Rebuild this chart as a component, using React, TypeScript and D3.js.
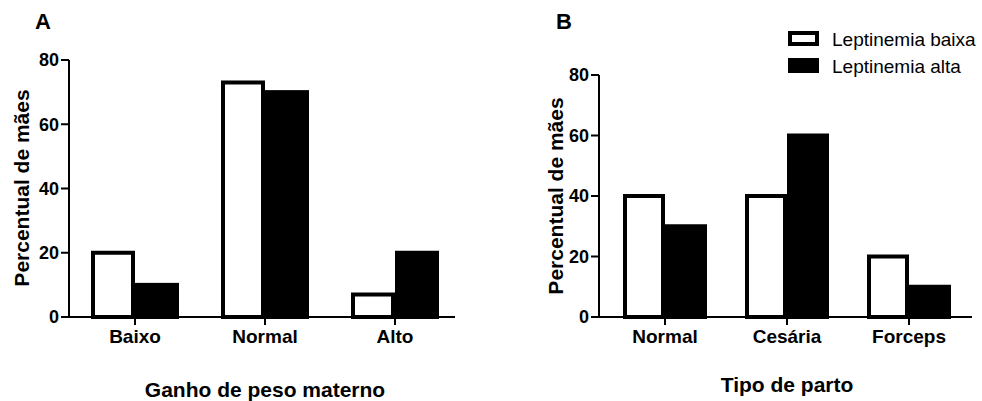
import * as d3 from 'd3'

const seriesKeys = ['Leptinemia baixa', 'Leptinemia alta']

const catsA = ['Baixo', 'Normal', 'Alto']
const baixaA = [20, 73, 7]
const altaA = [10, 70, 20]

const catsB = ['Normal', 'Cesária', 'Forceps']
const baixaB = [40, 40, 20]
const altaB = [30, 60, 10]

const yTicks = [0, 20, 40, 60, 80]

const FONT = '"Liberation Sans", Arial, Helvetica, sans-serif'

type PanelProps = {
  letter: string
  letterX: number
  cats: string[]
  low: number[]
  high: number[]
  axisX: number
  yTop: number
  yBottom: number
  xRange: [number, number]
  xEnd: number
  barW: number
  yTitleX: number
  yTitleY: number
  xTitle: string
  xTitleX: number
  xTitleY: number
}

function Panel(p: PanelProps) {
  const y = d3.scaleLinear().domain([0, 80]).range([p.yBottom, p.yTop])
  const x0 = d3.scaleBand<string>().domain(p.cats).range(p.xRange).padding(0)
  const x1 = d3.scaleBand<string>().domain(seriesKeys).range([-p.barW, p.barW]).padding(0)
  const sw = 4
  return (
    <g>
      <text x={p.letterX} y={29} fontFamily={FONT} fontWeight="bold" fontSize={22}>{p.letter}</text>
      {p.cats.map((c, i) => {
        const cx = x0(c)! + x0.bandwidth() / 2
        const vals = [p.low[i], p.high[i]]
        return seriesKeys.map((k, j) => {
          const v = vals[j]
          const bx = cx + x1(k)!
          return (
            <rect
              key={c + k}
              x={bx + sw / 2}
              y={y(v)}
              width={x1.bandwidth() - sw}
              height={y(0) - y(v)}
              fill={j === 0 ? '#fff' : '#000'}
              stroke="#000"
              strokeWidth={sw}
            />
          )
        })
      })}
      {/* y axis */}
      <line x1={p.axisX} x2={p.axisX} y1={p.yTop} y2={p.yBottom} stroke="#000" strokeWidth={2} />
      {yTicks.map((t) => (
        <g key={t}>
          <line x1={p.axisX - 8} x2={p.axisX} y1={y(t)} y2={y(t)} stroke="#000" strokeWidth={2} />
          <text x={p.axisX - 10} y={y(t)} dy="0.36em" textAnchor="end" fontFamily={FONT} fontWeight="bold" fontSize={18}>{t}</text>
        </g>
      ))}
      {/* x axis */}
      <line x1={p.axisX - 8} x2={p.xEnd} y1={p.yBottom} y2={p.yBottom} stroke="#000" strokeWidth={2} />
      {p.cats.map((c) => {
        const cx = x0(c)! + x0.bandwidth() / 2
        return (
          <g key={c}>
            <line x1={cx} x2={cx} y1={p.yBottom} y2={p.yBottom + 8} stroke="#000" strokeWidth={2} />
            <text x={cx} y={343} textAnchor="middle" fontFamily={FONT} fontWeight="bold" fontSize={19}>{c}</text>
          </g>
        )
      })}
      <text
        transform={`translate(${p.yTitleX},${p.yTitleY}) rotate(-90)`}
        textAnchor="middle"
        fontFamily={FONT}
        fontWeight="bold"
        fontSize={21}
      >
        Percentual de mães
      </text>
      <text x={p.xTitleX} y={p.xTitleY} textAnchor="middle" fontFamily={FONT} fontWeight="bold" fontSize={21}>{p.xTitle}</text>
    </g>
  )
}

export default function App() {
  return (
    <svg
      width={982}
      height={401}
      viewBox="0 0 982 401"
      style={{ position: 'absolute', left: 0, top: 0, background: '#fff' }}
    >
      <rect width={982} height={401} fill="#fff" />
      <Panel
        letter="A"
        letterX={35}
        cats={catsA}
        low={baixaA}
        high={altaA}
        axisX={69}
        yTop={60}
        yBottom={317}
        xRange={[70, 460]}
        xEnd={455}
        barW={44}
        yTitleX={29}
        yTitleY={188}
        xTitle="Ganho de peso materno"
        xTitleX={265}
        xTitleY={397}
      />
      <Panel
        letter="B"
        letterX={556}
        cats={catsB}
        low={baixaB}
        high={altaB}
        axisX={599}
        yTop={75}
        yBottom={317}
        xRange={[604, 970]}
        xEnd={972}
        barW={42}
        yTitleX={563}
        yTitleY={196}
        xTitle="Tipo de parto"
        xTitleX={787}
        xTitleY={392}
      />
      {/* legend */}
      {seriesKeys.map((k, i) => (
        <g key={k} transform={`translate(788,${31 + i * 27})`}>
          <rect x={2} y={2} width={27} height={11} fill={i === 0 ? '#fff' : '#000'} stroke="#000" strokeWidth={4} />
          <text x={44} y={15} fontFamily={FONT} fontSize={19}>{k}</text>
        </g>
      ))}
    </svg>
  )
}
